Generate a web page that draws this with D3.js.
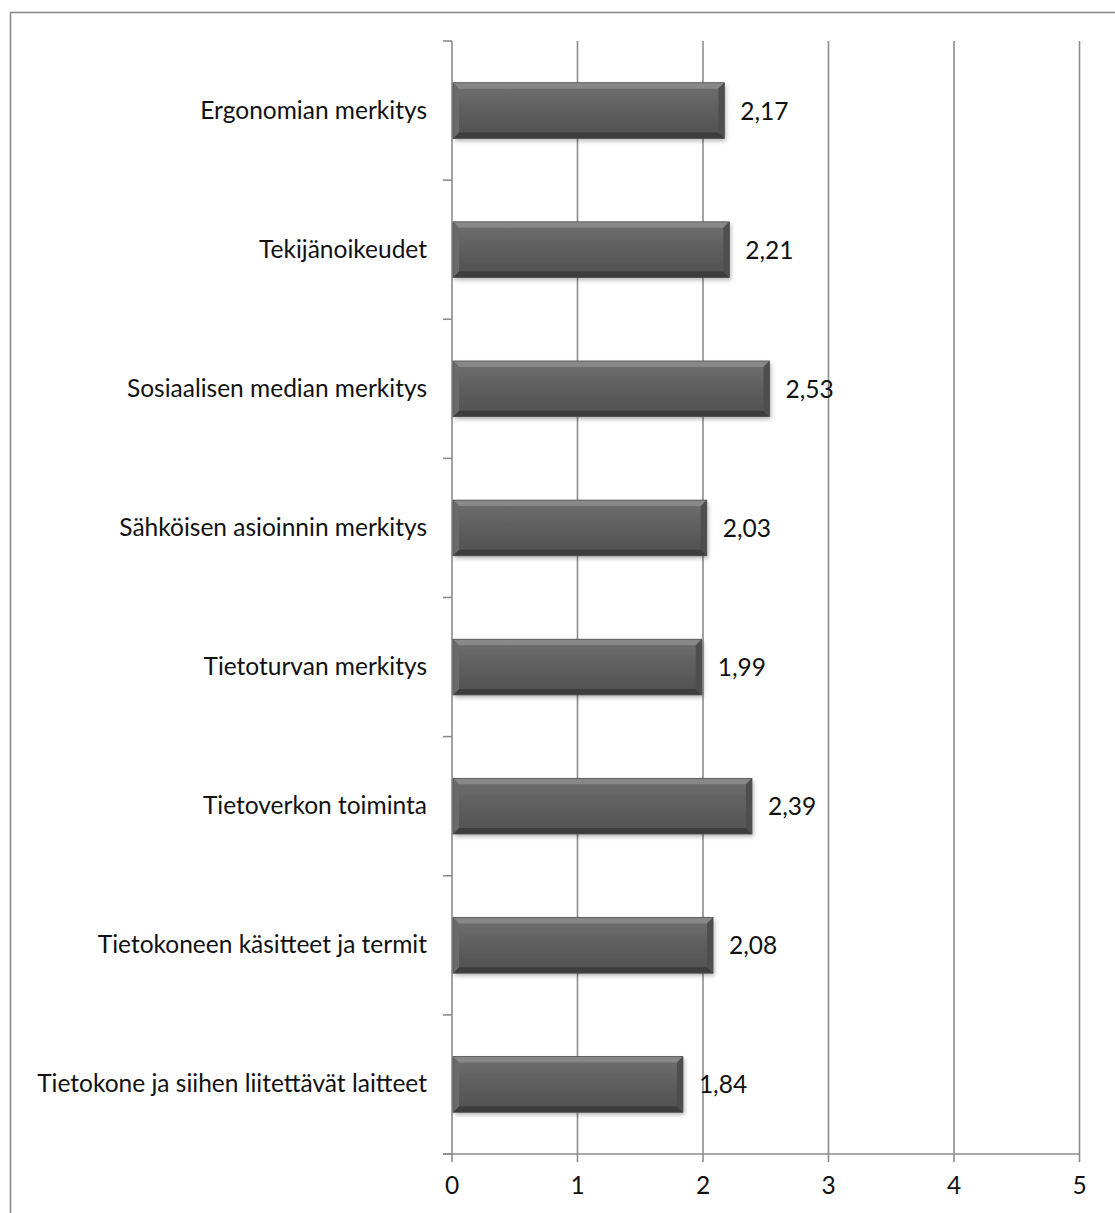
<!DOCTYPE html>
<html><head><meta charset="utf-8">
<script src="https://cdn.jsdelivr.net/npm/d3@7"></script>
<style>body{margin:0;background:#fff}svg{display:block}</style>
</head><body>
<script>
const categories = ["Ergonomian merkitys","Tekijänoikeudet","Sosiaalisen median merkitys","Sähköisen asioinnin merkitys","Tietoturvan merkitys","Tietoverkon toiminta","Tietokoneen käsitteet ja termit","Tietokone ja siihen liitettävät laitteet"];
const values = [2.17, 2.21, 2.53, 2.03, 1.99, 2.39, 2.08, 1.84];
const xTicks = [0,1,2,3,4,5];

const W = 1115, H = 1213;
const svg = d3.select("body").append("svg").attr("width", W).attr("height", H);
const font = "Lato, 'Open Sans', sans-serif";
const fs = 24.5;

const defs = svg.append("defs");
const f = defs.append("filter").attr("id","sh").attr("x","-10%").attr("y","-30%").attr("width","130%").attr("height","170%");
f.append("feDropShadow").attr("dx",1.5).attr("dy",2.5).attr("stdDeviation",2).attr("flood-color","#000").attr("flood-opacity",0.3);
const g1 = defs.append("linearGradient").attr("id","body").attr("x1",0).attr("y1",0).attr("x2",0).attr("y2",1);
g1.append("stop").attr("offset",0).attr("stop-color","#707070");
g1.append("stop").attr("offset",0.5).attr("stop-color","#5e5e5e");
g1.append("stop").attr("offset",1).attr("stop-color","#505050");

// frame
svg.append("rect").attr("x",10.5).attr("y",12.5).attr("width",W).attr("height",H)
  .attr("fill","none").attr("stroke","#8a8a8a").attr("stroke-width",1.6);

const x = d3.scaleLinear().domain([0,5]).range([452,1079.5]);
const y = d3.scaleBand().domain(categories).range([41,1154]).paddingInner(0.6).paddingOuter(0.3);
const plotTop = 41, plotBottom = 1154;

svg.append("g").selectAll("line").data(xTicks).join("line")
  .attr("x1",d=>x(d)).attr("x2",d=>x(d)).attr("y1",plotTop).attr("y2",plotBottom+8)
  .attr("stroke","#8c8c8c").attr("stroke-width",1.6);

svg.append("line").attr("x1",x(0)-9).attr("x2",x(5)).attr("y1",plotBottom).attr("y2",plotBottom)
  .attr("stroke","#8c8c8c").attr("stroke-width",1.6);

const step = y.step();
const boundaries = d3.range(categories.length+1).map(i => plotTop + i*step);
svg.append("g").selectAll("line").data(boundaries).join("line")
  .attr("x1",x(0)-9).attr("x2",x(0)).attr("y1",d=>d).attr("y2",d=>d)
  .attr("stroke","#8c8c8c").attr("stroke-width",1.6);

svg.append("g").selectAll("text").data(xTicks).join("text")
  .attr("x",d=>x(d)).attr("y",1194).attr("text-anchor","middle")
  .attr("font-family",font).attr("font-size",fs).attr("fill","#111").text(d=>d);

svg.append("g").selectAll("text").data(categories).join("text")
  .attr("x",427).attr("y",d=>y(d)+y.bandwidth()/2+8).attr("text-anchor","end")
  .attr("font-family",font).attr("font-size",fs).attr("fill","#111").text(d=>d);

const bv = 6;
const bars = svg.append("g").selectAll("g").data(values).join("g");
bars.each(function(v,i){
  const g = d3.select(this);
  const x0 = x(0)+1, x1 = x(v), y0 = y(categories[i]), y1 = y0 + y.bandwidth();
  g.append("rect").attr("x",x0).attr("y",y0).attr("width",x1-x0).attr("height",y1-y0)
    .attr("fill","url(#body)").attr("filter","url(#sh)");
  g.append("polygon").attr("points",[[x0,y0],[x1,y0],[x1-bv,y0+bv],[x0+bv,y0+bv]].join(" "))
    .attr("fill","#8e8e8e").attr("opacity",0.8);
  g.append("polygon").attr("points",[[x0,y1],[x1,y1],[x1-bv,y1-bv],[x0+bv,y1-bv]].join(" "))
    .attr("fill","#383838").attr("opacity",0.8);
  g.append("polygon").attr("points",[[x0,y0],[x0+bv,y0+bv],[x0+bv,y1-bv],[x0,y1]].join(" "))
    .attr("fill","#6a6a6a");
  g.append("polygon").attr("points",[[x1,y0],[x1-bv,y0+bv],[x1-bv,y1-bv],[x1,y1]].join(" "))
    .attr("fill","#4e4e4e");
  g.append("rect").attr("x",x0).attr("y",y0).attr("width",x1-x0).attr("height",y1-y0)
    .attr("fill","none").attr("stroke","#505050").attr("stroke-width",0.8);
});

const fmt = v => d3.format(".2f")(v).replace(".", ",");
svg.append("g").selectAll("text").data(values).join("text")
  .attr("x",d=>x(d)+16).attr("y",(d,i)=>y(categories[i])+y.bandwidth()/2+9)
  .attr("font-family",font).attr("font-size",fs).attr("fill","#111").text(fmt);
</script>
</body></html>
